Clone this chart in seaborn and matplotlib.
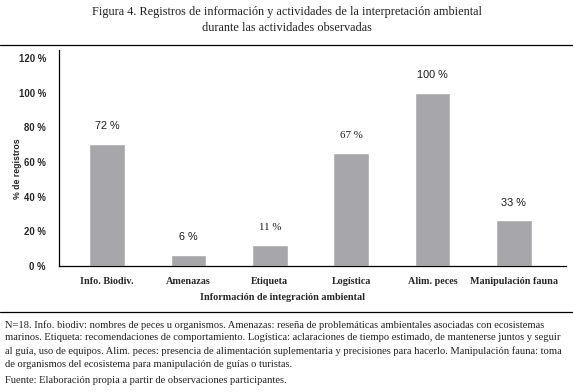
import matplotlib
matplotlib.use("Agg")
import matplotlib.pyplot as plt
from matplotlib.lines import Line2D
import seaborn as sns
import pandas as pd

# --- datos ---
categories = ["Info. Biodiv.", "Amenazas", "Etiqueta", "Logística",
              "Alim. peces", "Manipulación fauna"]
bar_values = [70.4, 6.5, 12.3, 65.4, 100, 26.5]
value_labels = ["72 %", "6 %", "11 %", "67 %", "100 %", "33 %"]
y_ticks = [0, 20, 40, 60, 80, 100, 120]
y_tick_labels = ["0 %", "20 %", "40 %", "60 %", "80 %", "100 %", "120 %"]

title = ("Figura 4. Registros de información y actividades de la interpretación ambiental\n"
         "durante las actividades observadas")
note = ("N=18. Info. biodiv: nombres de peces u organismos. Amenazas: reseña de problemáticas ambientales asociadas con ecosistemas\n"
        "marinos. Etiqueta: recomendaciones de comportamiento. Logística: aclaraciones de tiempo estimado, de mantenerse juntos y seguir\n"
        "al guía, uso de equipos. Alim. peces: presencia de alimentación suplementaria y precisiones para hacerlo. Manipulación fauna: toma\n"
        "de organismos del ecosistema para manipulación de guías o turistas.")
source = "Fuente: Elaboración propia a partir de observaciones participantes."

df = pd.DataFrame({"cat": categories, "val": bar_values})

sns.set_theme(style="white")
serif = "Liberation Serif"
sans = "Liberation Sans"

fig = plt.figure(figsize=(5.73, 3.92), dpi=100)
ax = fig.add_axes([0.103, 0.3214, 0.8848, 0.551])

sns.barplot(data=df, x="cat", y="val", color="#a7a7ab", saturation=1,
            width=0.44, ax=ax)

ax.set_ylim(0, 124.6)
ax.set_xlim(-0.59, 5.64)
ax.set_yticks(y_ticks)
ax.set_yticklabels(y_tick_labels, fontfamily=sans, fontweight="bold", fontsize=6.9)
ax.set_xticks(range(len(categories)))
ax.set_xticklabels(categories, fontfamily=serif, fontweight="bold", fontsize=7.3)
ax.tick_params(axis="y", direction="out", length=4.5, width=0.8, color="black", pad=5)
ax.tick_params(axis="x", length=0, pad=8)

for s in ["top", "right"]:
    ax.spines[s].set_visible(False)
for s in ["left", "bottom"]:
    ax.spines[s].set_color("black")
    ax.spines[s].set_linewidth(0.9)

ax.set_xlabel("Información de integración ambiental", fontfamily=serif,
              fontweight="bold", fontsize=7.3)
ax.xaxis.set_label_coords(0.44, -0.125)
ax.set_ylabel("% de registros", fontfamily=sans, fontweight="bold", fontsize=6.3)
ax.yaxis.set_label_coords(-0.074, 0.45)

for i, (v, lab) in enumerate(zip(bar_values, value_labels)):
    fam = serif if categories[i] in ("Etiqueta", "Logística") else sans
    ax.annotate(lab, (i, v), xytext=(0, 9), textcoords="offset points",
                ha="center", va="bottom", fontsize=7.8, fontfamily=fam,
                color="#1a1a1a")

fig.text(0.5, 0.985, title, ha="center", va="top", fontfamily=serif,
         fontsize=8.8, linespacing=1.45, color="#222222")

for yl in (0.885, 0.204):
    fig.add_artist(Line2D([0, 1], [yl, yl], transform=fig.transFigure,
                          color="black", lw=0.9))

fig.text(0.009, 0.184, note, ha="left", va="top", fontfamily=serif,
         fontsize=7.55, linespacing=1.55, color="#222222")
fig.text(0.009, 0.040, source, ha="left", va="top", fontfamily=serif,
         fontsize=7.55, color="#222222")

fig.savefig("out.png", dpi=100)
